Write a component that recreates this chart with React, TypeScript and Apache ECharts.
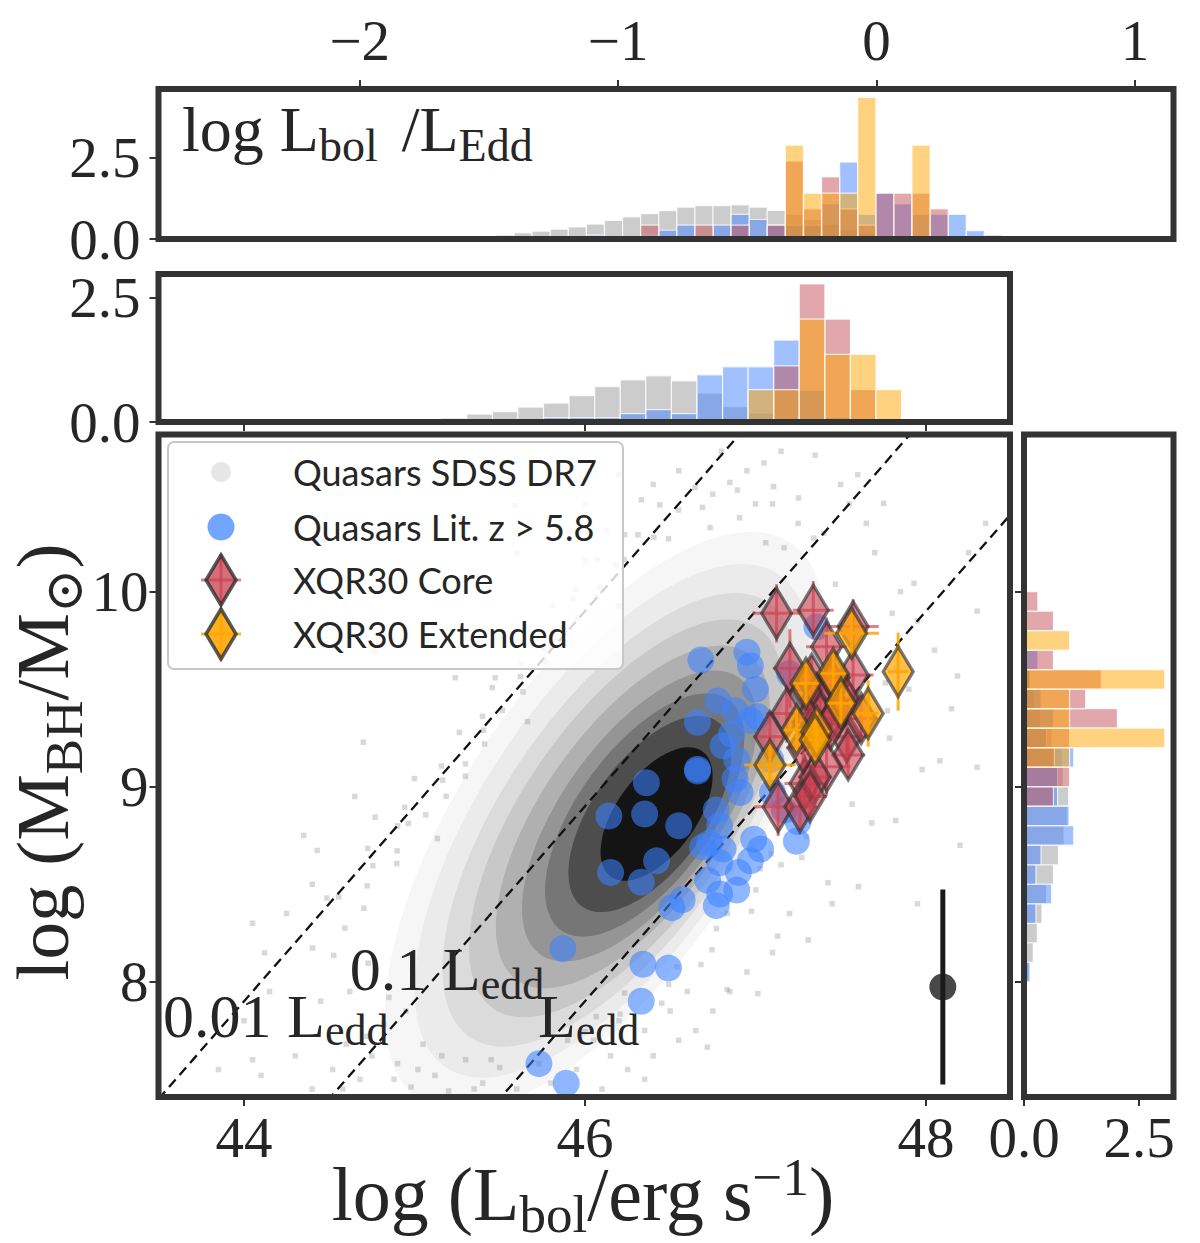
import React, { useEffect, useRef } from "react";
import * as echarts from "echarts";

const SERIF = '"Liberation Serif", "DejaVu Serif", serif';
const SANS = 'Lato, "Open Sans", "DejaVu Sans", sans-serif';
const INK = "#262626";
const SPINE = "#333333";

// ---------- layout (px) ----------
const G_LEFT = 158.5;
const G_RIGHT_MAIN = 1010;
const G_RIGHT_TOP = 1173.5;
const TOP_T = 89, TOP_B = 239;
const LB_T = 274, LB_B = 422;
const M_T = 434.5, M_B = 1097;
const RH_L = 1024;

// ---------- axis ranges ----------
const X_MIN = 43.4985, X_MAX = 48.493;
const Y_MIN = 7.409, Y_MAX = 10.806;
const ER_MIN = -2.779, ER_MAX = 1.149;
const ER_YMAX = 4.62;
const LB_YMAX = 2.98;
const RH_XMAX = 3.25;

// ---------- tick values ----------
const erTicks = [-2, -1, 0, 1];
const lbolTicks = [44, 46, 48];
const mbhTicks = [8, 9, 10];
const histTicks = [0, 2.5];

// ---------- histogram: log Lbol/LEdd ----------
const ER_BIN_START = -1.473;
const ER_BIN_W = 0.07;
const erGray = [0.12, 0.19, 0.24, 0.30, 0.37, 0.46, 0.57, 0.68, 0.78, 0.87, 0.98, 1.03, 1.03, 1.05, 0.98, 0.88, 0.76, 0.60, 0.45, 0.30, 0.17, 0.08, 0, 0, 0, 0, 0, 0];
const erBlue = [0, 0, 0, 0, 0, 0.12, 0, 0, 0.12, 0.27, 0.43, 0, 0.43, 0.76, 0.60, 0.43, 0.43, 0.43, 1.08, 2.37, 0.76, 1.41, 1.08, 0.76, 0.76, 0.76, 0.26, 0.12];
const erRed = [0, 0, 0, 0, 0, 0, 0, 0, 0.43, 0, 0, 0.43, 0, 0.43, 0, 0.43, 2.40, 0.93, 1.91, 0.93, 0.43, 1.41, 1.41, 1.41, 0.93, 0, 0, 0];
const erOrange = [0, 0, 0, 0, 0, 0, 0, 0, 0, 0, 0, 0, 0, 0, 0, 0, 2.89, 1.41, 1.41, 1.41, 4.36, 0, 0, 2.89, 0, 0, 0, 0];

// ---------- histogram: log Lbol ----------
const LB_BIN_START = 45.157;
const LB_BIN_W = 0.15;
const lbGray = [0.08, 0.16, 0.21, 0.30, 0.38, 0.53, 0.71, 0.85, 0.93, 0.83, 0.58, 0.31, 0.18, 0.08, 0.04, 0, 0, 0];
const lbBlue = [0, 0, 0, 0, 0.09, 0.09, 0.09, 0.17, 0.25, 0.17, 0.95, 1.11, 1.11, 1.65, 0.64, 0.09, 0, 0];
const lbRed = [0, 0, 0, 0, 0, 0, 0, 0, 0, 0, 0, 0, 0, 1.13, 2.78, 2.07, 0.65, 0];
const lbOrange = [0, 0, 0, 0, 0, 0, 0, 0, 0, 0, 0, 0, 0.65, 0.65, 2.07, 1.36, 1.36, 0.65];

// ---------- histogram: log MBH (bins ascending from 7.9) ----------
const MB_BIN_START = 7.9;
const MB_BIN_W = 0.1;
const mbGray = [0.05, 0.11, 0.20, 0.29, 0.39, 0.49, 0.64, 0.75, 0.87, 0.94, 0.97, 0.85, 0.83, 0.61, 0.36, 0.22, 0.13, 0.06, 0, 0, 0];
const mbBlue = [0, 0.13, 0.05, 0, 0.26, 0.60, 0.26, 0.37, 1.08, 0.98, 0.73, 0.73, 1.08, 0.49, 0.64, 0.37, 0.13, 0.30, 0, 0, 0];
const mbRed = [0, 0, 0, 0, 0, 0, 0, 0, 0, 0, 0.64, 0.99, 0.66, 0.99, 2.03, 1.34, 1.68, 0.64, 0, 0.64, 0.30];
const mbOrange = [0, 0, 0, 0, 0, 0, 0, 0, 0, 0, 0, 0, 0.99, 3.06, 0.99, 0.99, 3.06, 0, 0.99, 0, 0];

// ---------- scatter: literature quasars z > 5.8 [log Lbol, log MBH] ----------
const litQSO = [
  [46.68, 9.65], [46.95, 9.69], [46.97, 9.62], [47.00, 9.50], [46.78, 9.44], [46.66, 9.33],
  [46.88, 9.39], [47.01, 9.36], [46.81, 9.21], [46.86, 9.27], [46.89, 9.14], [46.66, 9.09],
  [46.36, 9.02], [46.14, 8.85], [46.35, 8.86], [46.55, 8.80], [46.77, 8.88], [46.88, 9.04],
  [46.91, 8.97], [46.79, 8.80], [46.69, 8.69], [46.81, 8.68], [46.99, 8.73], [47.03, 8.68],
  [47.24, 8.72], [46.42, 8.62], [46.15, 8.56], [46.33, 8.51], [46.79, 8.61], [46.90, 8.56],
  [46.97, 8.62], [46.79, 8.45], [46.89, 8.47], [46.57, 8.42], [46.51, 8.38], [46.72, 8.52],
  [47.10, 8.97], [45.87, 8.17], [46.34, 8.09], [46.49, 8.07], [46.33, 7.90], [45.73, 7.58],
  [45.89, 7.48], [47.36, 9.82], [46.77, 8.39], [47.25, 8.82], [46.73, 8.71], [46.66, 9.08],
  [46.97, 9.34], [47.20, 9.58], [47.09, 9.14], [47.17, 8.88],
];

// ---------- XQR30 core [log Lbol, log MBH, err Lbol, err MBH] ----------
const coreQSO = [
  [47.124, 9.889, 0.14, 0.15], [47.339, 9.905, 0.12, 0.15], [47.202, 9.607, 0.10, 0.20],
  [47.573, 9.821, 0.15, 0.14], [47.573, 9.573, 0.12, 0.15], [47.183, 9.376, 0.12, 0.15],
  [47.085, 9.256, 0.10, 0.13], [47.535, 9.256, 0.12, 0.15], [47.544, 9.163, 0.10, 0.12],
  [47.290, 9.017, 0.12, 0.15], [47.133, 8.897, 0.14, 0.15], [47.261, 8.897, 0.10, 0.12],
  [47.417, 9.718, 0.12, 0.15], [47.300, 9.496, 0.10, 0.12], [47.417, 9.103, 0.14, 0.15],
  [47.33, 9.55, 0.10, 0.12], [47.36, 9.45, 0.10, 0.12], [47.38, 9.35, 0.12, 0.14],
  [47.31, 9.33, 0.10, 0.12], [47.45, 9.52, 0.12, 0.14], [47.48, 9.38, 0.10, 0.12],
  [47.44, 9.32, 0.10, 0.12], [47.35, 9.05, 0.10, 0.14], [47.28, 9.20, 0.10, 0.12],
  [47.46, 9.56, 0.10, 0.12], [47.52, 9.45, 0.12, 0.12], [47.62, 9.35, 0.10, 0.12],
  [47.32, 8.95, 0.10, 0.12],
];

// ---------- XQR30 extended ----------
const extQSO = [
  [47.564, 9.787, 0.16, 0.10], [47.296, 9.530, 0.08, 0.10], [47.456, 9.580, 0.08, 0.10],
  [47.501, 9.428, 0.08, 0.10], [47.837, 9.590, 0.06, 0.20], [47.661, 9.376, 0.06, 0.17],
  [47.241, 9.291, 0.08, 0.10], [47.359, 9.282, 0.08, 0.10], [47.085, 9.111, 0.15, 0.10],
  [47.350, 9.240, 0.08, 0.10],
];

// ---------- SDSS DR7 individual quasars (outskirts of the distribution) ----------
const sdssQSO = [
  [44.402, 8.173], [44.592, 8.275], [44.556, 8.435], [44.722, 8.492], [44.726, 8.684], [44.898, 8.671],
  [44.901, 8.799], [45.066, 8.856], [45.000, 9.042], [45.165, 9.034], [45.299, 9.117], [45.263, 9.278],
  [45.405, 9.290], [45.516, 9.392], [45.473, 9.559], [45.622, 9.565], [45.764, 9.640], [45.737, 9.795],
  [45.878, 9.807], [45.928, 9.961], [46.070, 9.973], [46.003, 10.159], [46.182, 10.138], [46.233, 10.292],
  [46.404, 10.279], [46.331, 10.471], [46.549, 10.419], [46.689, 10.432], [46.907, 10.379], [47.168, 10.225],
  [47.469, 10.038], [44.429, 8.673], [44.700, 9.228], [45.239, 9.559], [45.446, 10.039], [45.905, 10.306],
  [44.120, 8.148], [45.588, 10.441], [44.765, 9.696], [45.134, 8.734], [45.663, 9.334], [46.201, 9.927],
  [44.728, 8.095], [45.731, 7.579], [45.898, 7.700], [46.066, 7.821], [46.232, 7.942], [46.491, 7.987],
  [46.680, 8.088], [46.771, 8.273], [46.977, 8.362], [47.028, 8.579], [47.272, 8.637], [47.323, 8.854],
  [47.567, 8.911], [47.543, 9.192], [47.786, 9.249], [47.762, 9.532], [46.718, 7.665], [47.014, 7.939],
  [47.309, 8.214], [47.604, 8.488], [47.823, 8.827], [48.081, 9.133], [48.185, 9.568], [47.930, 10.043],
  [47.253, 10.481], [47.752, 10.453], [44.52, 7.55], [44.60, 7.68], [44.68, 7.50], [44.75, 7.62],
  [44.82, 7.78], [44.90, 7.58], [44.98, 7.46], [45.05, 7.68], [45.12, 7.52], [45.20, 7.44],
  [45.30, 7.60], [45.40, 7.48], [45.50, 7.56], [45.60, 7.45], [44.40, 7.45], [44.30, 7.62],
  [44.10, 7.52], [44.05, 7.60], [44.45, 7.90], [44.62, 7.95], [44.25, 8.35], [44.15, 7.95],
  [48.30, 9.90], [48.20, 8.70], [47.95, 8.40], [48.35, 10.35], [47.60, 10.60], [47.35, 10.70],
  [46.20, 10.60], [45.60, 10.20], [46.85, 10.56], [46.95, 10.62], [47.05, 10.66], [46.75, 10.50],
  [47.10, 10.45], [47.40, 10.30], [47.55, 10.45], [47.70, 10.20], [47.85, 10.00], [47.95, 9.85],
  [48.05, 9.70], [47.90, 9.50], [48.15, 9.40], [48.25, 10.20], [48.30, 9.10], [47.15, 8.60],
  [47.20, 8.35], [47.10, 8.15], [46.95, 8.05], [46.85, 7.95], [46.75, 7.85], [47.45, 8.40],
  [46.05, 7.70], [46.20, 7.80], [46.35, 7.75], [46.50, 7.85], [46.60, 7.95], [46.65, 7.75],
  [46.25, 7.55], [46.10, 7.45], [44.65, 8.95], [44.40, 8.50],
  [44.526, 8.135], [44.486, 8.429], [44.703, 8.377], [44.756, 8.595], [44.896, 8.606], [44.769, 8.844],
  [44.964, 8.812], [44.942, 8.895], [45.186, 8.951], [45.158, 9.106], [45.298, 9.054], [45.411, 9.219],
  [45.399, 9.361], [45.456, 9.508], [45.636, 9.487], [45.624, 9.629], [45.758, 9.712], [45.877, 9.743],
  [45.810, 9.929], [45.957, 9.870], [45.945, 10.012], [46.086, 10.023], [46.074, 10.165], [46.230, 10.165],
  [46.131, 10.312], [46.311, 10.292], [46.490, 10.272], [46.439, 10.445], [46.734, 10.329], [46.645, 10.534],
  [47.060, 10.251], [46.894, 10.521], [47.342, 10.275], [47.106, 10.539], [46.55, 10.62], [46.80, 10.72],
  [47.00, 10.45], [47.25, 10.35], [47.50, 10.55], [47.65, 10.35], [47.15, 10.72], [46.40, 10.55],
  [46.00, 10.45], [46.001, 7.745], [46.206, 7.834], [46.450, 7.890], [46.540, 8.076], [46.745, 8.164],
  [46.835, 8.350], [47.002, 8.471], [47.093, 8.656], [47.298, 8.745], [47.350, 8.962], [47.516, 9.084],
  [47.607, 9.269], [47.774, 9.390], [47.826, 9.608], [47.802, 9.889], [46.834, 7.960], [47.130, 8.234],
  [47.425, 8.508], [47.682, 8.814], [47.978, 9.088], [44.58, 7.45], [44.72, 7.72], [44.88, 7.50],
  [45.02, 7.55], [45.16, 7.62], [45.35, 7.45], [45.45, 7.60], [45.80, 7.48], [45.95, 7.55],
  [46.15, 7.62], [46.40, 7.62], [46.55, 7.70], [46.35, 7.50], [44.95, 7.85], [44.85, 7.92],
  [44.00, 7.80], [43.85, 7.55], [44.35, 8.75], [44.05, 8.30],
];

// ---------- SDSS DR7 density contours [centre L, centre M, semi-major, semi-minor, angle deg] ----------
const contourLevels = [
  [46.12, 8.820, 1.80, 0.80, 51],
  [46.16, 8.825, 1.60, 0.72, 50.5],
  [46.20, 8.830, 1.42, 0.64, 50],
  [46.24, 8.838, 1.25, 0.57, 49.5],
  [46.28, 8.845, 1.08, 0.50, 49],
  [46.32, 8.850, 0.92, 0.43, 48.5],
  [46.35, 8.855, 0.77, 0.37, 48],
  [46.38, 8.860, 0.62, 0.31, 47.5],
  [46.42, 8.860, 0.42, 0.22, 47],
];
const contourColors = ["#f6f6f6", "#ebebeb", "#dbdbdb", "#c8c8c8", "#b0b0b0", "#959595", "#767676", "#4d4d4d", "#141414"];

// ---------- Eddington ratio lines ----------
const EDD_K = 38.1; // log(1.26e38)
const eddRatios = [0.01, 0.1, 1];

// ---------- annotation anchors [log Lbol, log MBH (baseline)] ----------
const eddNotes: [number, number, string][] = [
  [43.525, 7.718, "0.01 L"],
  [44.621, 7.957, "0.1 L"],
  [45.724, 7.718, "L"],
];

// ---------- typical uncertainty ----------
const errSample = [[48.099, 7.973, 0, 0.5]];

// ---------- colours ----------
const H_GRAY = "rgba(170,170,170,0.6)";
const H_BLUE = "rgba(65,130,255,0.5)";
const H_RED = "rgba(195,80,85,0.5)";
const H_ORANGE = "rgba(255,165,0,0.5)";
const P_BLUE = "rgba(60,130,255,0.72)";
const P_RED = "rgba(200,62,78,0.75)";
const P_ORANGE = "rgba(255,165,0,0.88)";
const E_RED = "rgba(215,75,85,0.7)";
const E_ORANGE = "rgba(255,165,0,0.85)";
const EDGE = "rgba(45,45,45,0.78)";

function vBars(vals: number[], start: number, w: number) {
  return vals.map((v, i) => [start + i * w, start + (i + 1) * w, v]).filter((d) => d[2] > 0);
}

function vHist(vals: number[], start: number, w: number, color: string, gi: number, z: number) {
  return {
    type: "custom",
    xAxisIndex: gi,
    yAxisIndex: gi,
    clip: true,
    z,
    data: vBars(vals, start, w),
    renderItem: (_p: any, api: any) => {
      const p0 = api.coord([api.value(0), 0]);
      const p1 = api.coord([api.value(1), api.value(2)]);
      return {
        type: "rect",
        shape: { x: p0[0], y: p1[1], width: p1[0] - p0[0], height: p0[1] - p1[1] },
        style: { fill: color, stroke: "rgba(255,255,255,0.75)", lineWidth: 1.2 },
      };
    },
  };
}

function hHist(vals: number[], start: number, w: number, color: string, z: number) {
  return {
    type: "custom",
    xAxisIndex: 3,
    yAxisIndex: 3,
    clip: true,
    z,
    data: vBars(vals, start, w).map((d) => [d[2], d[0], d[1]]),
    renderItem: (_p: any, api: any) => {
      const p0 = api.coord([0, api.value(1)]);
      const p1 = api.coord([api.value(0), api.value(2)]);
      return {
        type: "rect",
        shape: { x: p0[0], y: p1[1], width: p1[0] - p0[0], height: p0[1] - p1[1] },
        style: { fill: color, stroke: "rgba(255,255,255,0.75)", lineWidth: 1.2 },
      };
    },
  };
}

function errBars(data: number[][], color: string, width: number, z: number) {
  return {
    type: "custom",
    xAxisIndex: 2,
    yAxisIndex: 2,
    clip: true,
    z,
    data,
    renderItem: (_p: any, api: any) => {
      const L = api.value(0), M = api.value(1), xe = api.value(2), ye = api.value(3);
      const l = api.coord([L - xe, M]);
      const r = api.coord([L + xe, M]);
      const t = api.coord([L, M + ye]);
      const b = api.coord([L, M - ye]);
      const children: any[] = [];
      if (xe > 0) children.push({ type: "line", shape: { x1: l[0], y1: l[1], x2: r[0], y2: r[1] }, style: { stroke: color, lineWidth: width } });
      if (ye > 0) children.push({ type: "line", shape: { x1: t[0], y1: t[1], x2: b[0], y2: b[1] }, style: { stroke: color, lineWidth: width } });
      return { type: "group", children };
    },
  };
}

const tickStyle = { color: SPINE, width: 2 };
const numFont = { fontFamily: SERIF, fontSize: 57, lineHeight: 44, color: INK };
const minus = (v: number) => (v < 0 ? "\u2212" + Math.abs(v) : String(v));
const hidden = { show: false, onZero: false };

// ---------- math-like labels built from separate text pieces ----------
function textWidth(text: string, size: number): number {
  const t = new (echarts.graphic as any).Text({ style: { text, fontSize: size, fontFamily: SERIF } });
  return t.getBoundingRect().width;
}
type Part = [string, string, number?]; // kind (m main / s sub / u sup), text, gap before (px)
function mathLabel(parts: Part[], F: number, f: number, d: number, r: number, align: "left" | "center", z: number) {
  const items = parts.map(([k, t, g]) => ({ k, t, g: g || 0, size: k === "m" ? F : f }));
  const widths = items.map((it) => textWidth(it.t, it.size));
  const total = items.reduce((s, it, i) => s + it.g + widths[i], 0);
  let x = align === "center" ? -total / 2 : 0;
  return items.map((it, i) => {
    x += it.g;
    const base = it.k === "m" ? 0 : it.k === "s" ? d : -r;
    const el = {
      type: "text",
      z,
      x,
      y: base - 0.3375 * it.size,
      style: {
        text: it.t, fontSize: it.size, fontFamily: SERIF, fill: INK,
        align: "left", verticalAlign: "middle", lineHeight: Math.round(it.size * 0.8),
      },
    };
    x += widths[i];
    return el;
  });
}

function buildOption() {
  const lines = eddRatios.map((r) => ({
    type: "line",
    xAxisIndex: 2,
    yAxisIndex: 2,
    symbol: "none",
    silent: true,
    z: 4,
    lineStyle: { color: "#111", width: 2.3, type: [10, 6] },
    data: [
      [X_MIN, X_MIN - EDD_K - Math.log10(r)],
      [X_MAX, X_MAX - EDD_K - Math.log10(r)],
    ],
  }));

  return {
    animation: false,
    backgroundColor: "#ffffff",
    grid: [
      { left: G_LEFT, top: TOP_T, width: G_RIGHT_TOP - G_LEFT, height: TOP_B - TOP_T },
      { left: G_LEFT, top: LB_T, width: G_RIGHT_MAIN - G_LEFT, height: LB_B - LB_T },
      { left: G_LEFT, top: M_T, width: G_RIGHT_MAIN - G_LEFT, height: M_B - M_T },
      { left: RH_L, top: M_T, width: G_RIGHT_TOP - RH_L, height: M_B - M_T },
    ],
    xAxis: [
      {
        gridIndex: 0, type: "value", min: ER_MIN, max: ER_MAX, position: "top",
        axisLine: hidden, splitLine: { show: false },
        axisTick: { customValues: erTicks, length: 9, lineStyle: tickStyle },
        axisLabel: { customValues: erTicks, formatter: minus, margin: 27, ...numFont },
      },
      {
        gridIndex: 1, type: "value", min: X_MIN, max: X_MAX, position: "bottom",
        axisLine: hidden, splitLine: { show: false },
        axisTick: { customValues: lbolTicks, length: 9, lineStyle: tickStyle },
        axisLabel: { show: false },
      },
      {
        gridIndex: 2, type: "value", min: X_MIN, max: X_MAX, position: "bottom",
        axisLine: hidden, splitLine: { show: false },
        axisTick: { customValues: lbolTicks, length: 9, lineStyle: tickStyle },
        axisLabel: { customValues: lbolTicks, margin: 18, ...numFont },
      },
      {
        gridIndex: 3, type: "value", min: 0, max: RH_XMAX, position: "bottom",
        axisLine: hidden, splitLine: { show: false },
        axisTick: { customValues: histTicks, length: 9, lineStyle: tickStyle },
        axisLabel: { customValues: histTicks, margin: 18, formatter: (v: number) => v.toFixed(1), ...numFont },
      },
    ],
    yAxis: [
      {
        gridIndex: 0, type: "value", min: 0, max: ER_YMAX, position: "left",
        axisLine: hidden, splitLine: { show: false },
        axisTick: { customValues: histTicks, length: 9, lineStyle: tickStyle },
        axisLabel: { customValues: histTicks, margin: 18, formatter: (v: number) => v.toFixed(1), ...numFont },
      },
      {
        gridIndex: 1, type: "value", min: 0, max: LB_YMAX, position: "left",
        axisLine: hidden, splitLine: { show: false },
        axisTick: { customValues: histTicks, length: 9, lineStyle: tickStyle },
        axisLabel: { customValues: histTicks, margin: 18, formatter: (v: number) => v.toFixed(1), ...numFont },
      },
      {
        gridIndex: 2, type: "value", min: Y_MIN, max: Y_MAX, position: "left",
        axisLine: hidden, splitLine: { show: false },
        axisTick: { customValues: mbhTicks, length: 9, lineStyle: tickStyle },
        axisLabel: { customValues: mbhTicks, margin: 10, ...numFont },
      },
      {
        gridIndex: 3, type: "value", min: Y_MIN, max: Y_MAX, position: "left",
        axisLine: hidden, splitLine: { show: false },
        axisTick: { customValues: mbhTicks, length: 9, lineStyle: tickStyle },
        axisLabel: { show: false },
      },
    ],
    series: [
      vHist(erGray, ER_BIN_START, ER_BIN_W, H_GRAY, 0, 2),
      vHist(erBlue, ER_BIN_START, ER_BIN_W, H_BLUE, 0, 2),
      vHist(erRed, ER_BIN_START, ER_BIN_W, H_RED, 0, 2),
      vHist(erOrange, ER_BIN_START, ER_BIN_W, H_ORANGE, 0, 2),
      vHist(lbGray, LB_BIN_START, LB_BIN_W, H_GRAY, 1, 2),
      vHist(lbBlue, LB_BIN_START, LB_BIN_W, H_BLUE, 1, 2),
      vHist(lbRed, LB_BIN_START, LB_BIN_W, H_RED, 1, 2),
      vHist(lbOrange, LB_BIN_START, LB_BIN_W, H_ORANGE, 1, 2),
      hHist(mbGray, MB_BIN_START, MB_BIN_W, H_GRAY, 2),
      hHist(mbBlue, MB_BIN_START, MB_BIN_W, H_BLUE, 2),
      hHist(mbRed, MB_BIN_START, MB_BIN_W, H_RED, 2),
      hHist(mbOrange, MB_BIN_START, MB_BIN_W, H_ORANGE, 2),
      {
        type: "custom",
        xAxisIndex: 2,
        yAxisIndex: 2,
        clip: true,
        z: 1,
        silent: true,
        data: contourLevels.map((c, i) => [...c, i]),
        renderItem: (_p: any, api: any) => {
          const cL = api.value(0), cM = api.value(1), a = api.value(2), b = api.value(3);
          const th = (api.value(4) * Math.PI) / 180;
          const idx = api.value(5);
          const pts: number[][] = [];
          for (let k = 0; k < 120; k++) {
            const t = (k / 120) * Math.PI * 2;
            const L = cL + a * Math.cos(t) * Math.cos(th) - b * Math.sin(t) * Math.sin(th);
            const M = cM + a * Math.cos(t) * Math.sin(th) + b * Math.sin(t) * Math.cos(th);
            pts.push(api.coord([L, M]));
          }
          return { type: "polygon", shape: { points: pts }, style: { fill: contourColors[idx] } };
        },
      },
      {
        type: "scatter",
        xAxisIndex: 2,
        yAxisIndex: 2,
        symbol: "rect",
        symbolSize: 5.5,
        z: 2,
        silent: true,
        itemStyle: { color: "rgba(115,115,115,0.34)" },
        data: sdssQSO,
      },
      ...lines,
      {
        type: "scatter",
        xAxisIndex: 2,
        yAxisIndex: 2,
        symbol: "circle",
        symbolSize: 27,
        z: 5,
        itemStyle: { color: P_BLUE },
        data: litQSO,
      },
      errBars(coreQSO, E_RED, 3, 6),
      {
        type: "scatter",
        xAxisIndex: 2,
        yAxisIndex: 2,
        symbol: "diamond",
        symbolSize: [30, 50],
        z: 7,
        itemStyle: { color: P_RED, borderColor: EDGE, borderWidth: 3.5 },
        data: coreQSO.map((d) => [d[0], d[1]]),
      },
      errBars(extQSO, E_ORANGE, 3, 8),
      {
        type: "scatter",
        xAxisIndex: 2,
        yAxisIndex: 2,
        symbol: "diamond",
        symbolSize: [30, 50],
        z: 9,
        itemStyle: { color: P_ORANGE, borderColor: EDGE, borderWidth: 3.5 },
        data: extQSO.map((d) => [d[0], d[1]]),
      },
      errBars(errSample, "#1a1a1a", 5, 10),
      {
        type: "scatter",
        xAxisIndex: 2,
        yAxisIndex: 2,
        symbol: "circle",
        symbolSize: 27,
        z: 11,
        itemStyle: { color: "#1a1a1a" },
        data: errSample.map((d) => [d[0], d[1]]),
      },
    ],
  };
}

function frames() {
  const box = (x0: number, y0: number, x1: number, y1: number) => ({
    type: "rect",
    z: 100,
    silent: true,
    shape: { x: x0, y: y0, width: x1 - x0, height: y1 - y0 },
    style: { fill: "none", stroke: SPINE, lineWidth: 6 },
  });
  return [
    box(G_LEFT, TOP_T, G_RIGHT_TOP, TOP_B),
    box(G_LEFT, LB_T, G_RIGHT_MAIN, LB_B),
    box(G_LEFT, M_T, G_RIGHT_MAIN, M_B),
    box(RH_L, M_T, G_RIGHT_TOP, M_B),
  ];
}

function legend() {
  const x0 = 168, y0 = 442, w = 455, h = 227;
  const mx = 221, tx = 293;
  const rows = [472, 527, 580, 634];
  const labels = ["Quasars SDSS DR7", "Quasars Lit. z > 5.8", "XQR30 Core", "XQR30 Extended"];
  const els: any[] = [
    {
      type: "rect", z: 60, shape: { x: x0, y: y0, width: w, height: h, r: 6 },
      style: { fill: "rgba(255,255,255,0.82)", stroke: "#c8c8c8", lineWidth: 2 },
    },
    { type: "circle", z: 61, shape: { cx: mx, cy: rows[0], r: 10 }, style: { fill: "#e6e6e6" } },
    { type: "circle", z: 61, shape: { cx: mx, cy: rows[1], r: 13.5 }, style: { fill: P_BLUE } },
  ];
  const dia = (cy: number, fill: string, err: string) => [
    { type: "line", z: 61, shape: { x1: mx - 20, y1: cy, x2: mx + 20, y2: cy }, style: { stroke: err, lineWidth: 3 } },
    { type: "line", z: 61, shape: { x1: mx, y1: cy - 26, x2: mx, y2: cy + 26 }, style: { stroke: err, lineWidth: 3 } },
    {
      type: "polygon", z: 62,
      shape: { points: [[mx, cy - 25], [mx + 15, cy], [mx, cy + 25], [mx - 15, cy]] },
      style: { fill, stroke: EDGE, lineWidth: 3.5 },
    },
  ];
  els.push(...dia(rows[2], P_RED, E_RED), ...dia(rows[3], P_ORANGE, E_ORANGE));
  labels.forEach((t, i) => {
    els.push({
      type: "text", z: 63, x: tx, y: rows[i],
      style: { text: t, fontFamily: SANS, fontSize: 36, fill: INK, align: "left", verticalAlign: "middle" },
    });
  });
  return els;
}

export default function App() {
  const ref = useRef<HTMLDivElement>(null);
  useEffect(() => {
    if (!ref.current) return;
    const chart = echarts.init(ref.current, null, { renderer: "svg" });
    chart.setOption(buildOption() as any);
    const px = (L: number, M: number) => chart.convertToPixel({ xAxisIndex: 2, yAxisIndex: 2 } as any, [L, M]) as number[];

    const noteEls = eddNotes.map(([L, M, t]) => {
      const p = px(L, M);
      return {
        type: "group", z: 50, x: p[0], y: p[1],
        children: mathLabel([["m", t], ["s", "edd"]], 62, 44, 9, 0, "left", 50),
      };
    });

    const titles = [
      {
        type: "group", z: 50, x: 182, y: 151,
        children: mathLabel([["m", "log L"], ["s", "bol"], ["m", "/L", 24], ["s", "Edd"]], 64, 46, 10, 0, "left", 50),
      },
      {
        type: "group", z: 50, x: 583, y: 1220,
        children: mathLabel([["m", "log (L"], ["s", "bol"], ["m", "/erg s"], ["u", "\u22121"], ["m", ")"]], 76, 53, 12, 25, "center", 50),
      },
      {
        type: "group", z: 50, x: 68, y: 762, rotation: Math.PI / 2,
        children: mathLabel([["m", "log (M"], ["s", "BH"], ["m", "/M"], ["s", "\u2299"], ["m", ")"]], 75, 53, 14, 0, "center", 50),
      },
    ];

    chart.setOption({ graphic: [...frames(), ...legend(), ...noteEls, ...titles] } as any);
    return () => chart.dispose();
  }, []);
  return (
    <div
      ref={ref}
      style={{ position: "absolute", left: 0, top: 0, width: 1200, height: 1243, background: "#fff" }}
    />
  );
}
